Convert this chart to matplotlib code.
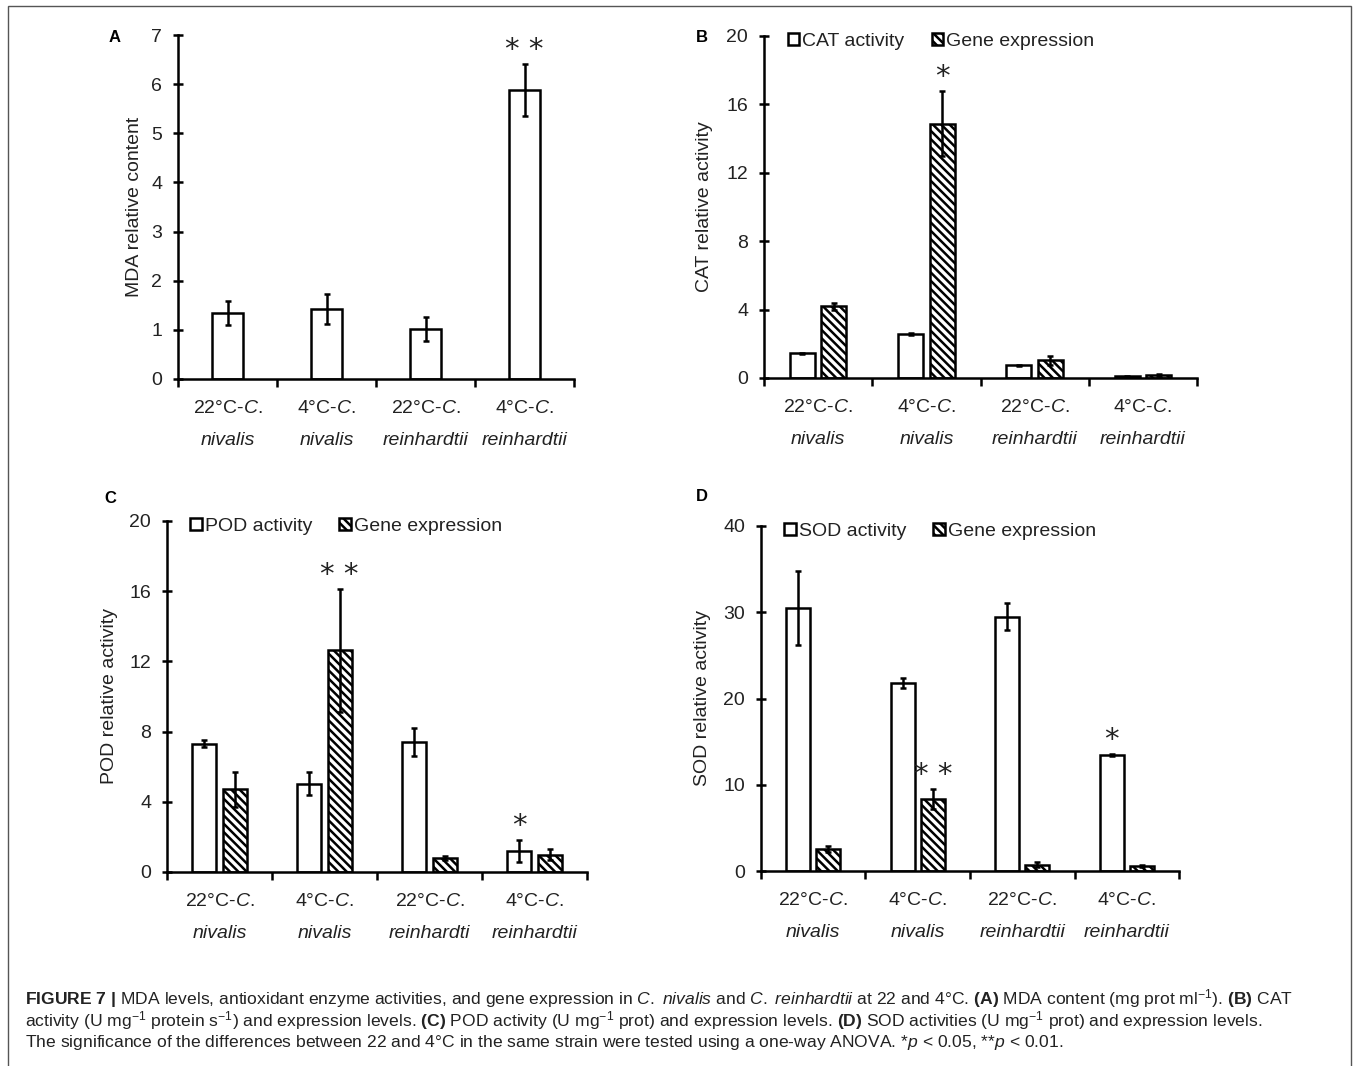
import matplotlib
matplotlib.use("Agg")
import numpy as np
import matplotlib.pyplot as plt
from matplotlib import font_manager
from matplotlib.patches import Patch, Rectangle

# category labels
temps = ["22°C", "4°C", "22°C", "4°C"]
species = ["nivalis", "nivalis", "reinhardtii", "reinhardtii"]
species_pod = ["nivalis", "nivalis", "reinhardti", "reinhardtii"]  # typo kept from the figure

# (A) MDA
mda_mean = [1.34, 1.42, 1.02, 5.89]
mda_err = [0.24, 0.31, 0.25, 0.53]
mda_sig = ["", "", "", "**"]

# (B) CAT
cat_act = [1.46, 2.57, 0.74, 0.10]
cat_act_err = [0.03, 0.06, 0.03, 0.02]
cat_gene = [4.19, 14.86, 1.03, 0.18]
cat_gene_err = [0.22, 1.90, 0.27, 0.05]
cat_act_sig = ["", "", "", ""]
cat_gene_sig = ["", "*", "", ""]

# (C) POD
pod_act = [7.32, 5.04, 7.41, 1.18]
pod_act_err = [0.20, 0.63, 0.78, 0.62]
pod_gene = [4.71, 12.64, 0.82, 0.99]
pod_gene_err = [1.00, 3.50, 0.12, 0.30]
pod_act_sig = ["", "", "", "*"]
pod_gene_sig = ["", "**", "", ""]

# (D) SOD
sod_act = [30.5, 21.8, 29.5, 13.41]
sod_act_err = [4.3, 0.6, 1.55, 0.12]
sod_gene = [2.59, 8.39, 0.73, 0.58]
sod_gene_err = [0.35, 1.15, 0.30, 0.10]
sod_act_sig = ["", "", "", "*"]
sod_gene_sig = ["", "**", "", ""]

W, H = 1357, 1066
FONT = "Liberation Sans"
TXT = "#222222"
LW = 1.8

installed = {f.name for f in font_manager.fontManager.ttflist}
if "Liberation Sans Narrow" in installed:
    CHART_FONT, FS = "Liberation Sans Narrow", 16
else:
    CHART_FONT, FS = FONT, 14

plt.rcParams["font.family"] = [FONT, "DejaVu Sans"]
plt.rcParams["mathtext.fontset"] = "custom"
plt.rcParams["mathtext.rm"] = FONT
plt.rcParams["mathtext.it"] = FONT + ":italic"
plt.rcParams["mathtext.bf"] = FONT + ":bold"
plt.rcParams["hatch.linewidth"] = 1.8
plt.rcParams["hatch.color"] = "black"


def px_rect(left, right, top, bottom):
    return [left / W, 1 - bottom / H, (right - left) / W, (bottom - top) / H]


def style_axes(ax, ymax, ystep, labels, ylabel, label_x):
    for side in ["top", "right"]:
        ax.spines[side].set_visible(False)
    for side in ["left", "bottom"]:
        ax.spines[side].set_linewidth(LW)
    ax.set_xlim(-0.5, 3.5)
    ax.set_ylim(0, ymax)
    ax.set_yticks(np.arange(0, ymax + ystep / 2, ystep))
    ax.tick_params(axis="y", direction="inout", length=7, width=LW,
                   labelsize=FS, labelcolor=TXT, pad=8)
    for t in ax.get_yticklabels():
        t.set_family(CHART_FONT)
    ax.set_xticks(np.arange(-0.5, 4, 1))
    ax.set_xticklabels([])
    ax.tick_params(axis="x", direction="out", length=6, width=LW)
    ax.set_ylabel(ylabel, fontsize=FS, color=TXT, family=CHART_FONT)
    ax.yaxis.set_label_coords(label_x, 0.5)
    for i in range(len(temps)):
        ax.annotate(temps[i] + "-$\\mathit{C.}$", xy=(i, 0),
                    xycoords=("data", "axes fraction"), xytext=(0, -21),
                    textcoords="offset points", ha="center", va="center",
                    fontsize=FS, color=TXT, family=CHART_FONT)
        ax.annotate(labels[i], xy=(i, 0),
                    xycoords=("data", "axes fraction"), xytext=(0, -44),
                    textcoords="offset points", ha="center", va="center",
                    fontsize=FS, color=TXT, style="italic", family=CHART_FONT)


def add_stars(ax, x, vals, errs, marks):
    for xi, v, e, m in zip(x, vals, errs, marks):
        if m:
            ax.annotate(" ".join(m), xy=(xi, v + e), xytext=(0, 0),
                        textcoords="offset points", ha="center", va="bottom",
                        fontsize=21, color=TXT, family="DejaVu Sans")


def draw_bars(ax, x, vals, errs, width, hatch=None):
    ax.bar(x, vals, width, color="white", edgecolor="black", linewidth=LW,
           hatch=hatch, zorder=2)
    ax.errorbar(x, vals, yerr=errs, fmt="none", ecolor="black",
                elinewidth=LW, capsize=2.5, capthick=LW, zorder=3)


def draw_pair(ax, act, act_err, gene, gene_err, act_sig, gene_sig, name):
    x = np.arange(len(act))
    off, width = 0.145, 0.23
    draw_bars(ax, x - off, act, act_err, width)
    draw_bars(ax, x + off, gene, gene_err, width, hatch="\\\\\\\\")
    add_stars(ax, x - off, act, act_err, act_sig)
    add_stars(ax, x + off, gene, gene_err, gene_sig)
    handles = [Patch(facecolor="white", edgecolor="black", linewidth=LW),
               Patch(facecolor="white", edgecolor="black", linewidth=LW,
                     hatch="\\\\\\\\")]
    ax.legend(handles, [name + " activity", "Gene expression"], ncol=2,
              loc="center left", bbox_to_anchor=(0.055, 0.985), frameon=False,
              prop={"family": CHART_FONT, "size": FS}, handlelength=0.6,
              handleheight=0.6, handletextpad=0.15, columnspacing=1.4,
              borderpad=0, borderaxespad=0, labelcolor=TXT)


def main():
    fig = plt.figure(figsize=(W / 100, H / 100), dpi=100)

    ax_a = fig.add_axes(px_rect(178, 574, 35, 379))
    x = np.arange(len(mda_mean))
    draw_bars(ax_a, x, mda_mean, mda_err, 0.32)
    add_stars(ax_a, x, mda_mean, mda_err, mda_sig)
    style_axes(ax_a, 7, 1, species, "MDA relative content", -0.088)

    ax_b = fig.add_axes(px_rect(764, 1197, 36, 378))
    draw_pair(ax_b, cat_act, cat_act_err, cat_gene, cat_gene_err,
              cat_act_sig, cat_gene_sig, "CAT")
    style_axes(ax_b, 20, 4, species, "CAT relative activity", -0.118)

    ax_c = fig.add_axes(px_rect(167, 587, 521, 872))
    draw_pair(ax_c, pod_act, pod_act_err, pod_gene, pod_gene_err,
              pod_act_sig, pod_gene_sig, "POD")
    style_axes(ax_c, 20, 4, species_pod, "POD relative activity", -0.117)

    ax_d = fig.add_axes(px_rect(761, 1179, 526, 871))
    draw_pair(ax_d, sod_act, sod_act_err, sod_gene, sod_gene_err,
              sod_act_sig, sod_gene_sig, "SOD")
    style_axes(ax_d, 40, 10, species, "SOD relative activity", -0.12)

    for letter, px, py in [("A", 115, 37), ("B", 702, 37),
                           ("C", 110, 498), ("D", 702, 497)]:
        fig.text(px / W, 1 - py / H, letter, fontsize=12, fontweight="bold",
                 ha="center", va="center", color="black")

    caption = [
        "$\\bf{FIGURE\\ 7\\ |}$ MDA levels, antioxidant enzyme activities, and gene "
        "expression in $\\mathit{C.}$ $\\mathit{nivalis}$ and $\\mathit{C.}$ "
        "$\\mathit{reinhardtii}$ at 22 and "
        "4°C. $\\bf{(A)}$ MDA content (mg prot ml$^{-1}$). $\\bf{(B)}$ CAT",
        "activity (U mg$^{-1}$ protein s$^{-1}$) and expression levels. $\\bf{(C)}$ POD "
        "activity (U mg$^{-1}$ prot) and expression levels. $\\bf{(D)}$ SOD activities "
        "(U mg$^{-1}$ prot) and expression levels.",
        "The significance of the differences between 22 and 4°C in the same strain "
        "were tested using a one-way ANOVA. *$\\mathit{p}$ < 0.05, **$\\mathit{p}$ < 0.01.",
    ]
    for line, py in zip(caption, [999, 1021, 1043]):
        fig.text(25 / W, 1 - py / H, line, fontsize=12.6, ha="left",
                 va="center", color=TXT)

    fig.patches.append(Rectangle((8 / W, -0.01), (1351 - 8) / W,
                                 1.01 - 6 / H, transform=fig.transFigure,
                                 fill=False, edgecolor="#555555", linewidth=1))

    fig.savefig("out.png", dpi=100)
    plt.close(fig)


if __name__ == "__main__":
    main()
